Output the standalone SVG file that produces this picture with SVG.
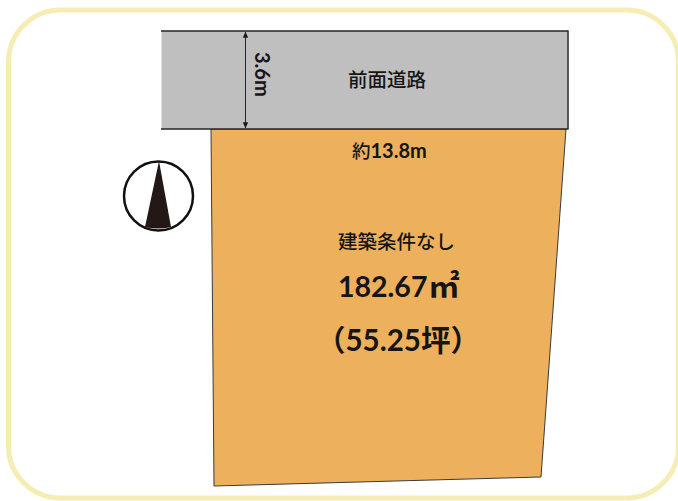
<svg xmlns="http://www.w3.org/2000/svg" width="678" height="501" viewBox="0 0 678 501">
<style>
text{fill:#151515}
.m{font-family:"Noto Sans CJK JP",sans-serif;font-weight:500}
.b{font-weight:700;font-family:Lato,"Noto Sans CJK JP",sans-serif}
</style>
<defs>
<marker id="a" viewBox="0 0 6 6" refX="5.8" refY="3" markerWidth="6" markerHeight="6" orient="auto-start-reverse" markerUnits="userSpaceOnUse"><path d="M0 0.3L6 3L0 5.700Z" fill="#1a1a1a"/></marker>
</defs>
<rect width="678" height="501" fill="#fff"/>
<rect id="frame" x="8.500" y="10" width="670" height="488" rx="52" fill="#fff" stroke="#f6edb4" stroke-width="5"/>
<g id="lot"><path d="M211 129L566 129L541 477L214 486Z" fill="#edb05c" stroke="#3a3a3a" stroke-width="1"/></g>
<g id="road"><rect x="161.500" y="31" width="406" height="98" fill="#bfbfbf"/><path d="M161 31H568V129H161" fill="none" stroke="#262626" stroke-width="1.500"/></g>
<g id="connectors"><line x1="245.500" y1="32" x2="245.500" y2="128" stroke="#262626" stroke-width="1" marker-start="url(#a)" marker-end="url(#a)"/></g>
<g id="compass"><circle cx="158.500" cy="196" r="34.500" fill="#fff" stroke="#111" stroke-width="2.500"/><path d="M159 161L145 227Q158 230 171 227Z" fill="#231815"/></g>
<text x="255" y="52" font-size="20" font-weight="700" transform="rotate(90 255 52)" style="font-family:Lato,sans-serif">3.6m</text>
<text class="m" x="348" y="87" font-size="19.500">前面道路</text>
<text class="m" x="352" y="158" font-size="18.500">約<tspan class="b" font-size="20">13.8m</tspan></text>
<text class="m" x="338" y="249" font-size="19.500">建築条件なし</text>
<text class="b" x="338" y="297" font-size="28.500">182.67<tspan font-size="31" dx="1">㎡</tspan></text>
<text class="b" x="316" y="351" font-size="29.500">（55.25坪）</text>
</svg>
